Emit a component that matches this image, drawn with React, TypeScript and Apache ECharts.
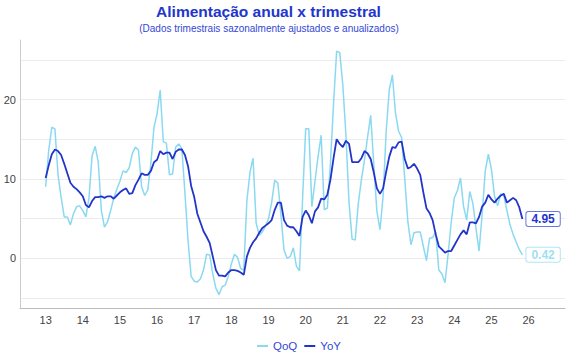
import React, { useEffect, useRef } from "react";
import * as echarts from "echarts";

// Monthly data, Jan 2013 .. Nov 2025
const startYear = 13; // "13" = 2013
const qoq: number[] = [
  9.0, 13.6, 16.5, 16.3, 10.5, 7.7, 5.2, 5.2, 4.2, 5.6, 6.5, 6.6,
  6.0, 5.2, 7.6, 12.9, 14.1, 12.1, 6.0, 3.9, 4.6, 6.0, 7.6, 8.7,
  9.7, 11.0, 10.8, 11.4, 13.2, 14.0, 13.6, 9.0, 7.9, 8.6, 12.0, 16.5,
  18.2, 21.2, 14.7, 14.5, 10.5, 10.6, 14.0, 14.4, 13.8, 8.2, 2.2, -2.3,
  -2.9, -3.0, -2.6, -1.5, 0.5, 0.4, -2.0, -3.8, -4.6, -3.6, -3.4, -2.3,
  -0.7, 0.5, 0.1, -1.3, -1.5, 7.2, 10.8, 12.6, 4.4, 2.9, 3.3, 4.0,
  5.0, 7.0, 9.8, 9.5, 5.5, 1.0, 0.0, 0.2, 1.3, -1.0, -1.6, 7.5,
  16.3, 16.3, 6.5, 9.7, 12.8, 15.5, 6.1, 6.3, 12.0, 19.5, 26.1, 25.9,
  21.8, 15.5, 7.0, 2.4, 2.3, 6.9, 9.9, 12.4, 15.3, 18.0, 11.8, 5.9,
  3.6, 7.8, 16.0, 21.2, 23.1, 18.3, 16.0, 15.2, 10.0, 4.6, 1.7, 3.2,
  3.3, 3.3, 1.5, -0.3, 2.5, 2.6, 3.3, -1.5, -2.0, -3.1, 0.5, 4.5,
  7.6, 8.5, 10.1, 6.5, 4.8, 8.4, 6.9, 3.8, 0.9, 5.5, 11.0, 13.1,
  11.2, 7.8, 6.6, 8.1, 7.9, 6.0, 4.2, 3.0, 2.0, 1.1, 0.42,
];
const yoy: number[] = [
  10.1, 11.7, 13.1, 13.7, 13.5, 13.0, 11.9, 10.7, 9.5, 9.0, 8.7, 8.3,
  7.8, 6.7, 6.4, 7.2, 7.7, 7.7, 7.8, 7.6, 7.8, 7.8, 7.5, 7.9,
  8.3, 8.6, 8.8, 8.1, 8.2, 9.2, 9.9, 10.7, 10.5, 10.5, 11.0, 12.1,
  12.4, 13.5, 13.1, 13.3, 13.3, 12.5, 13.4, 13.7, 13.7, 13.0, 11.6, 9.1,
  7.7, 5.6, 4.5, 3.4, 2.7, 1.9, 0.2, -1.5, -2.2, -2.2, -2.3, -1.8,
  -1.5, -1.5, -1.6, -1.8, -2.1, 0.2, 1.3, 2.0, 2.5, 3.2, 3.8, 4.1,
  4.4, 4.8, 6.1, 7.0, 7.0, 4.8, 4.1, 3.9, 3.9, 3.4, 2.8, 5.2,
  6.0, 5.4, 4.4, 5.9, 6.4, 7.5, 7.4, 8.0, 9.9, 12.6, 15.0, 14.4,
  14.0, 14.8, 14.4, 12.1, 12.1, 12.1, 12.6, 13.5, 13.2, 12.5, 10.8, 8.8,
  8.1, 8.8, 10.9, 12.8, 14.0, 13.9, 14.6, 14.7, 12.5, 11.3, 11.5, 11.9,
  11.3, 10.5, 8.3, 6.3, 5.7, 4.8, 3.0, 1.5, 1.1, 0.7, 0.9, 0.9,
  1.6, 2.3, 3.0, 3.5, 3.0, 4.5, 4.5, 4.4, 5.2, 6.5, 7.0, 8.0,
  7.4, 7.0, 7.5, 7.9, 8.1, 7.0, 7.3, 7.6, 7.3, 6.4, 4.95,
];
const xTickLabels = [13, 14, 15, 16, 17, 18, 19, 20, 21, 22, 23, 24, 25, 26];
const yTickLabels = [0, 10, 20];
const yGridValues = [-5, 0, 5, 10, 15, 20, 25];

const QOQ_COLOR = "#8bd9f1";
const YOY_COLOR = "#2335c9";

export default function App() {
  const ref = useRef<HTMLDivElement>(null);
  useEffect(() => {
    document.body.style.margin = "0";
    const chart = echarts.init(ref.current!, undefined, { renderer: "svg" });
    const toPts = (arr: number[]) => arr.map((v, i) => [startYear + i / 12, v]);
    const font = "Liberation Sans, Arial, sans-serif";
    chart.setOption({
      animation: false,
      textStyle: { fontFamily: font },
      graphic: [
        {
          type: "text",
          x: 268.5,
          y: 3,
          style: {
            text: "Alimentação anual x trimestral",
            fontFamily: font,
            fontSize: 15.5,
            fontWeight: "bold",
            fill: "#2236cc",
            textAlign: "center",
          },
        },
        {
          type: "text",
          x: 269,
          y: 23.5,
          style: {
            text: "(Dados trimestrais sazonalmente ajustados e anualizados)",
            fontFamily: font,
            fontSize: 10,
            fill: "#3347d6",
            textAlign: "center",
          },
        },
      ],
      grid: { left: 20, right: 5, top: 40, bottom: 52, outerBoundsMode: "none" },
      legend: {
        left: 252,
        top: 335,
        itemWidth: 11,
        itemHeight: 2,
        itemGap: 7,
        icon: "rect",
        textStyle: { fontSize: 11.5, color: "#3347d6", fontFamily: font },
        data: ["QoQ", "YoY"],
      },
      xAxis: {
        type: "value",
        min: 12.31,
        max: 26.98,
        axisLine: { show: true, onZero: false, lineStyle: { color: "#bcbcbc", width: 1 } },
        axisTick: { show: false, customValues: xTickLabels },
        axisLabel: {
          customValues: xTickLabels,
          color: "#444",
          fontSize: 11,
          margin: 6,
          formatter: (v: number) => String(Math.round(v)),
        },
        splitLine: { show: false },
      },
      yAxis: {
        type: "value",
        min: -6.28,
        max: 27.5,
        axisLine: { show: true, lineStyle: { color: "#cccccc", width: 1 } },
        axisTick: { show: false, customValues: yGridValues },
        axisLabel: {
          customValues: yTickLabels,
          color: "#444",
          fontSize: 11,
          margin: 4,
        },
        splitLine: { show: true, lineStyle: { color: "#ececec", width: 1 } },
      },
      series: [
        {
          name: "QoQ",
          type: "line",
          data: toPts(qoq),
          showSymbol: false,
          symbol: "none",
          lineStyle: { color: QOQ_COLOR, width: 1.5 },
          itemStyle: { color: QOQ_COLOR },
          z: 2,
          endLabel: {
            show: true,
            formatter: (p: any) => Number(p.value[1]).toFixed(2),
            distance: 4,
            color: "#9fe0f3",
            fontWeight: "bold",
            fontSize: 12,
            fontFamily: font,
            backgroundColor: "#fff",
            borderColor: "#aee6f6",
            borderWidth: 1,
            borderRadius: 2,
            padding: [1, 5],
          },
        },
        {
          name: "YoY",
          type: "line",
          data: toPts(yoy),
          showSymbol: false,
          symbol: "none",
          lineStyle: { color: YOY_COLOR, width: 1.8 },
          itemStyle: { color: YOY_COLOR },
          z: 3,
          endLabel: {
            show: true,
            formatter: (p: any) => Number(p.value[1]).toFixed(2),
            distance: 4,
            color: YOY_COLOR,
            fontWeight: "bold",
            fontSize: 12,
            fontFamily: font,
            backgroundColor: "#fff",
            borderColor: "#6a78dd",
            borderWidth: 1,
            borderRadius: 2,
            padding: [1, 5],
          },
        },
      ],
    });
    return () => chart.dispose();
  }, []);
  return <div ref={ref} style={{ width: 570, height: 360 }} />;
}
